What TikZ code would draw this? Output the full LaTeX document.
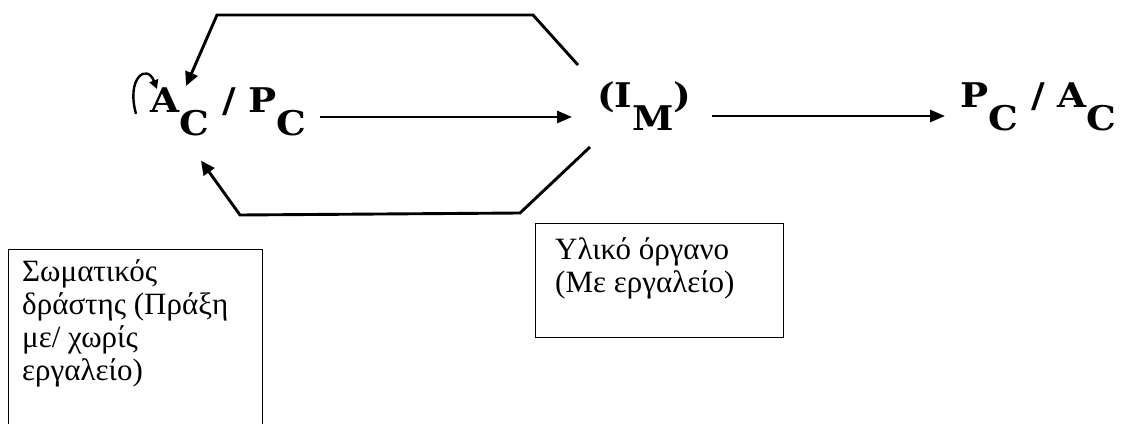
\documentclass[tikz,border=0pt]{standalone}
\usepackage{fontspec}
\setmainfont{Liberation Serif}
\newfontfamily\formfont[FakeStretch=1.1]{DejaVu Serif}
\usepackage{tikz}
\usetikzlibrary{positioning, arrows.meta, calc}

% subscript set at full size, hanging below the baseline
\newcommand{\lowsub}[1]{\raisebox{-0.95\height}{#1}}

\begin{document}
\begin{tikzpicture}[
  x=1pt, y=-1pt,
  formula/.style={inner sep=0pt, anchor=base west,
    font=\formfont\bfseries\fontsize{34}{36}\selectfont},
  notetext/.style={inner sep=0pt, anchor=north west, align=left,
    font=\fontsize{31}{33}\selectfont},
  notebox/.style={draw, line width=1.3pt, anchor=north west, inner sep=0pt},
  arr/.style={line width=2.8pt, -{Triangle[length=15pt,width=12pt]}},
  backline/.style={line width=2.9pt, line join=miter,
    -{Triangle[length=14pt,width=13pt]}},
  curl/.style={line width=2.4pt, -{Triangle[length=9pt,width=9pt]}},
]
  \useasboundingbox (0,0) rectangle (1127,423);
  \clip (0,0) rectangle (1127,423);

  % the three terms of the chain
  \node[formula] (ac) at (150,112) {A\lowsub{C} / P\lowsub{C}};
  \node[formula] (im) at (597,107) {(I\lowsub{M})};
  \node[formula] (pa) at (960,107) {P\lowsub{C} / A\lowsub{C}};

  \draw[arr] ([xshift=13pt,yshift=-5pt]ac.base east)
    -- ([xshift=-25pt,yshift=-10pt]im.base west);
  \draw[arr] ([xshift=20pt,yshift=-9pt]im.base east)
    -- ([xshift=-15pt,yshift=-9pt]pa.base west);

  % feedback from the instrument back to the agent
  \coordinate (topR) at (578,65);
  \coordinate (topK) at (533,15);
  \coordinate (topL) at (217,15);
  \coordinate (botR) at (590,147);
  \coordinate (botK) at (520,213);
  \coordinate (botL) at (240,215);
  \draw[backline] (topR) -- (topK) -- (topL) -- ([xshift=36pt,yshift=1pt]ac.north west);
  \draw[backline] (botR) -- (botK) -- (botL) -- ([xshift=51pt,yshift=-24pt]ac.south west);
  \draw[curl] ([xshift=-14pt,yshift=-2pt]ac.west)
    .. controls +(-10,-36) and +(-10,-26) .. ([xshift=7pt,yshift=-2pt]ac.north west);

  % explanatory boxes
  \node[notebox, minimum width=254pt, minimum height=200pt] (bodybox) at (8,249) {};
  \node[notetext] (bodytxt) at ([xshift=14pt,yshift=-10pt]bodybox.north west)
    {Σωματικός\\δράστης (Πράξη\\με/ χωρίς\\εργαλείο)};
  \node[notebox, minimum width=248pt, minimum height=114pt] (toolbox) at (535,223) {};
  \node[notetext] (tooltxt) at ([xshift=20pt,yshift=-14pt]toolbox.north west)
    {Υλικό όργανο\\(Με εργαλείο)};
\end{tikzpicture}
\end{document}
